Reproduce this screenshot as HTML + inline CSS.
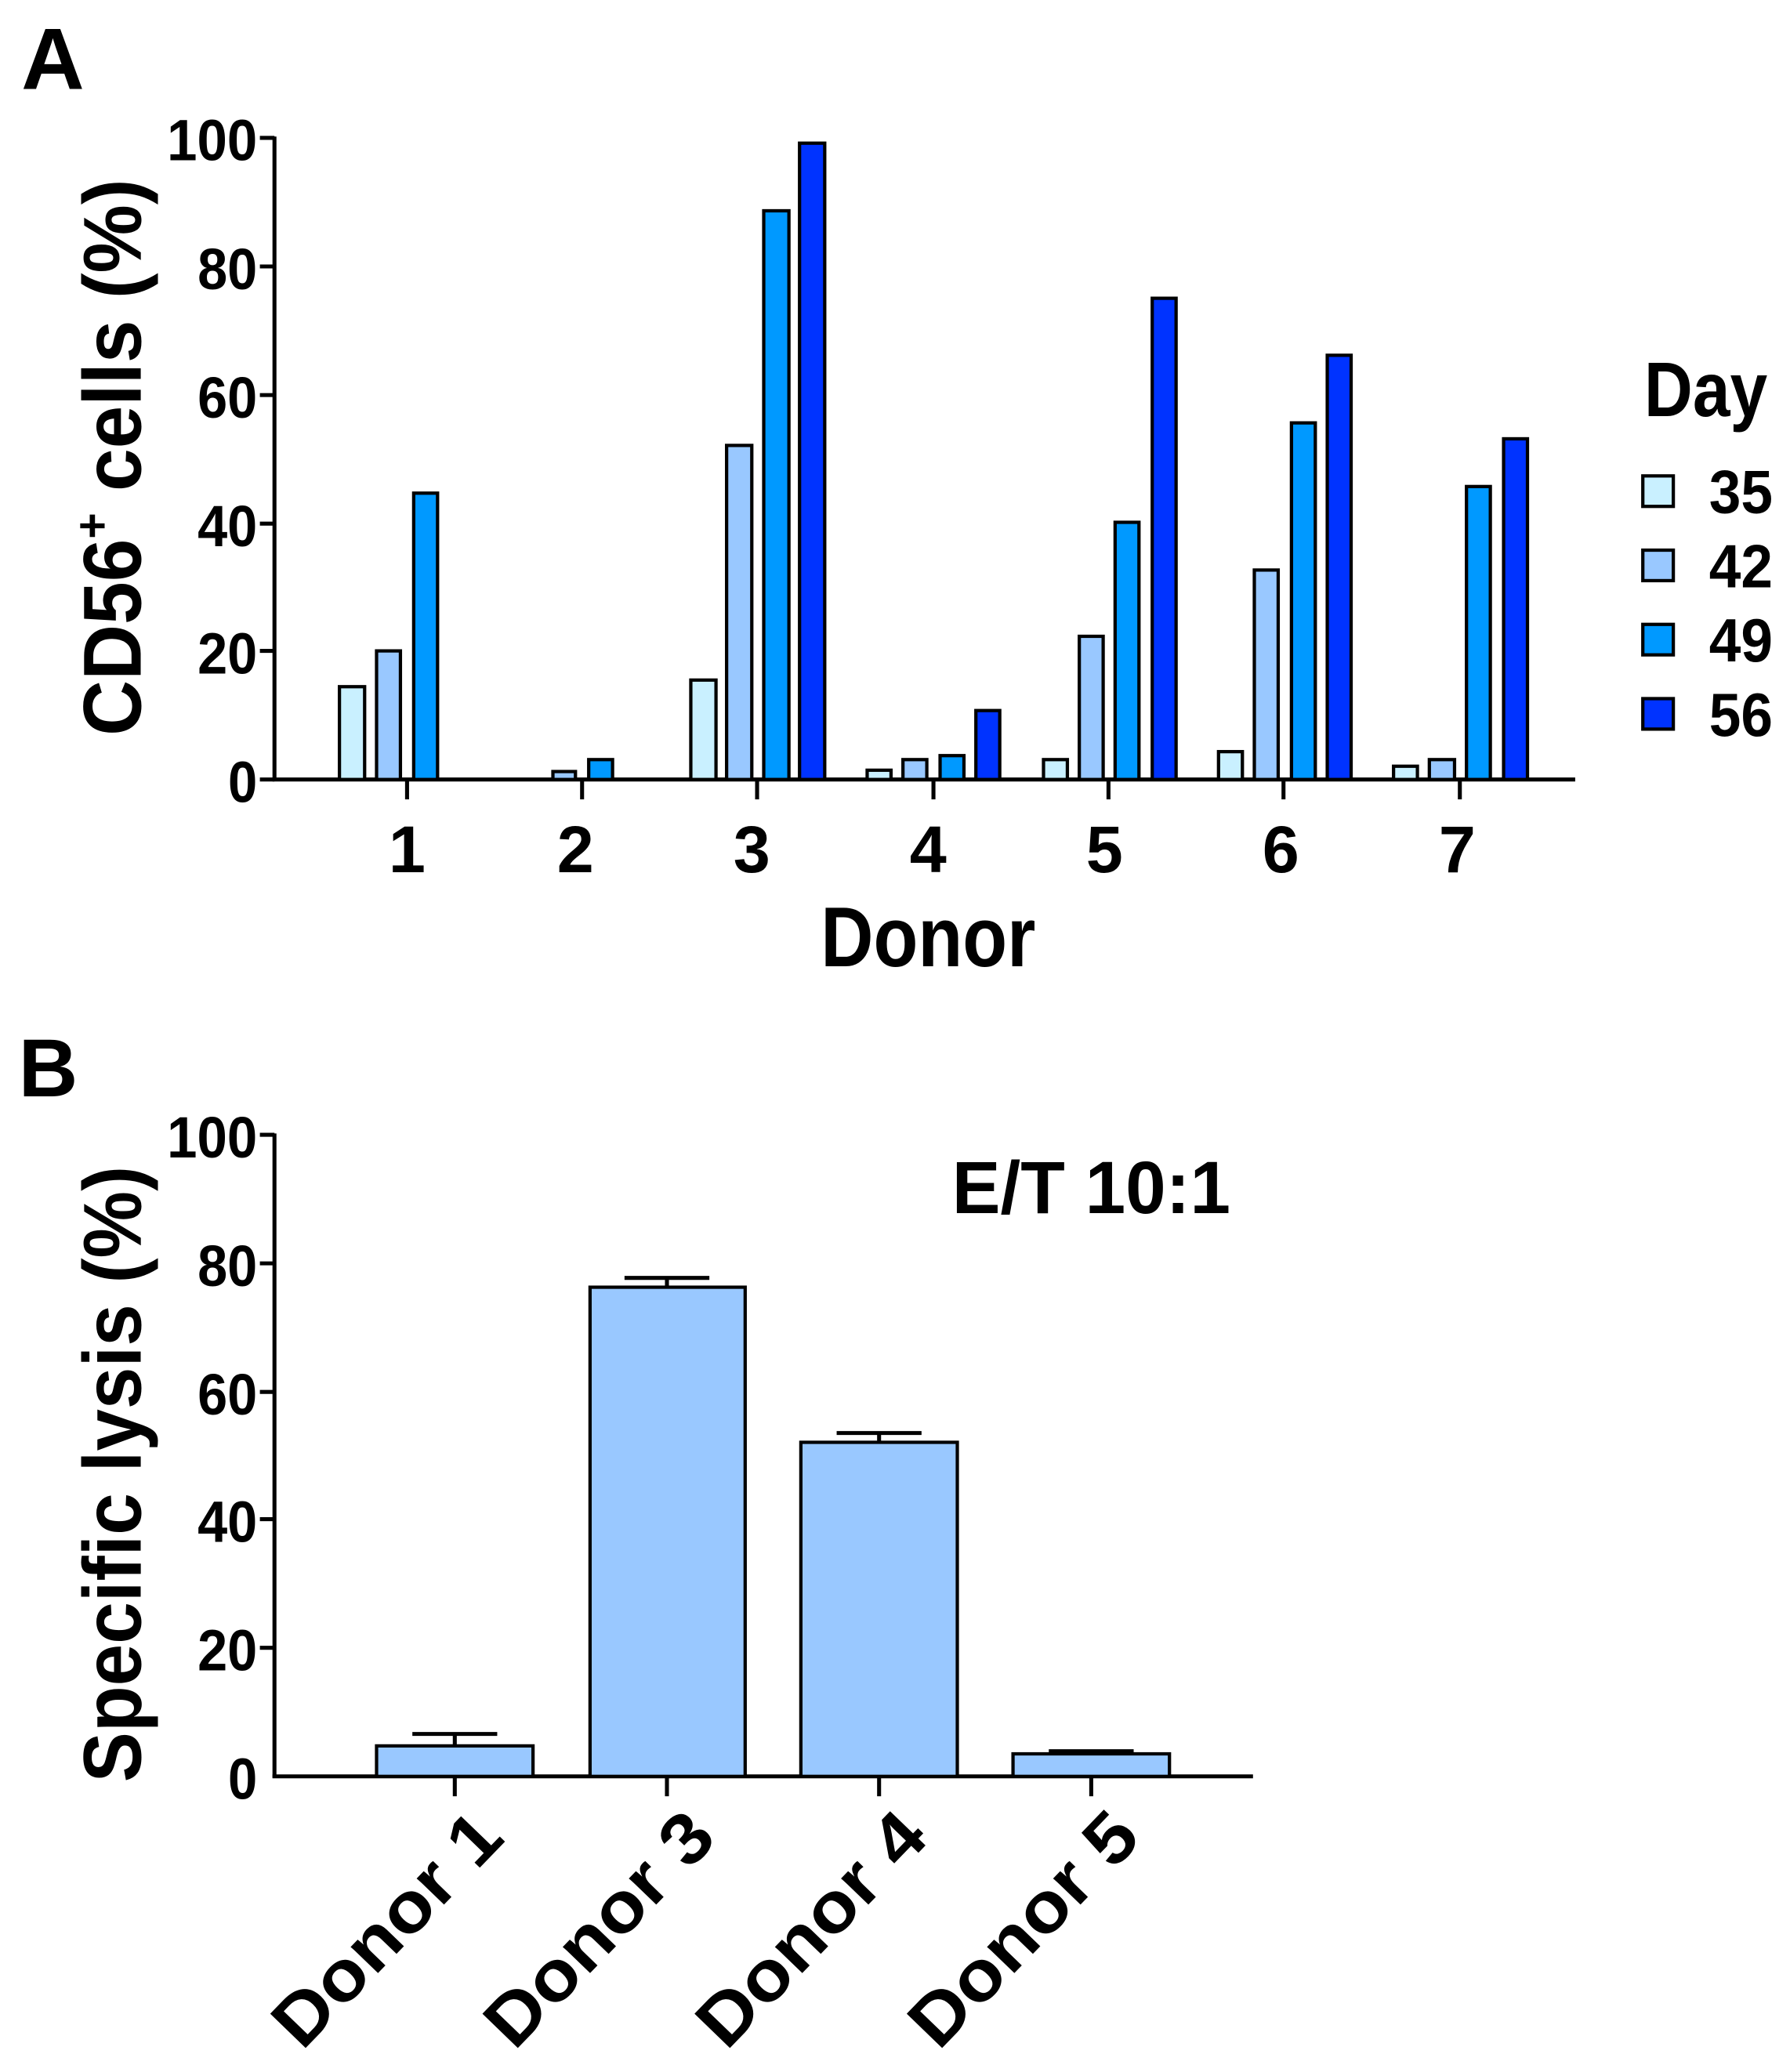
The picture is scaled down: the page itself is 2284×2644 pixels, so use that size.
<!DOCTYPE html>
<html><head><meta charset="utf-8"><style>
html,body{margin:0;padding:0;background:#fff;}
svg{display:block;}
text{font-family:"Liberation Sans",sans-serif;font-weight:bold;fill:#000;}
</style></head><body>
<svg width="2284" height="2644" viewBox="0 0 1350 1563" preserveAspectRatio="none" xmlns="http://www.w3.org/2000/svg">
<rect width="1350" height="1563" fill="#fff"/>
<!-- Panel A -->
<text x="16" y="67" font-size="66">A</text>
<g stroke="#000" stroke-width="3" fill="none">
<line x1="207" y1="103" x2="207" y2="589"/>
<line x1="205.5" y1="588" x2="1188" y2="588"/>
<line x1="196" y1="104" x2="207" y2="104"/>
<line x1="196" y1="201" x2="207" y2="201"/>
<line x1="196" y1="298" x2="207" y2="298"/>
<line x1="196" y1="395" x2="207" y2="395"/>
<line x1="196" y1="491" x2="207" y2="491"/>
<line x1="196" y1="588" x2="207" y2="588"/>
<line x1="307" y1="588" x2="307" y2="603"/>
<line x1="439" y1="588" x2="439" y2="603"/>
<line x1="571" y1="588" x2="571" y2="603"/>
<line x1="704" y1="588" x2="704" y2="603"/>
<line x1="836" y1="588" x2="836" y2="603"/>
<line x1="968" y1="588" x2="968" y2="603"/>
<line x1="1101" y1="588" x2="1101" y2="603"/>
</g>
<g font-size="44" text-anchor="end">
<text x="194" y="121" textLength="68" lengthAdjust="spacingAndGlyphs">100</text>
<text x="194" y="218" textLength="45" lengthAdjust="spacingAndGlyphs">80</text>
<text x="194" y="315" textLength="45" lengthAdjust="spacingAndGlyphs">60</text>
<text x="194" y="412" textLength="45" lengthAdjust="spacingAndGlyphs">40</text>
<text x="194" y="508" textLength="45" lengthAdjust="spacingAndGlyphs">20</text>
<text x="194" y="605" textLength="22" lengthAdjust="spacingAndGlyphs">0</text>
</g>
<g font-size="50" text-anchor="middle">
<text x="307" y="658">1</text><text x="434" y="658">2</text><text x="567" y="658">3</text>
<text x="700" y="658">4</text><text x="833" y="658">5</text><text x="966" y="658">6</text><text x="1099" y="658">7</text>
</g>
<text x="700" y="729" font-size="64" text-anchor="middle" textLength="162" lengthAdjust="spacingAndGlyphs">Donor</text>
<text transform="translate(106,345) rotate(-90)" font-size="62" text-anchor="middle" textLength="420" lengthAdjust="spacingAndGlyphs">CD56<tspan font-size="36" dy="-24">+</tspan><tspan dy="24"> cells  (%)</tspan></text>
<g stroke="#000" stroke-width="2.5">
<!-- D1 -->
<rect x="256" y="518" width="19" height="70" fill="#c9f0ff"/>
<rect x="284" y="491" width="18" height="97" fill="#99c8ff"/>
<rect x="312" y="372" width="18" height="216" fill="#0099ff"/>
<!-- D2 -->
<rect x="417" y="582" width="17" height="6" fill="#99c8ff"/>
<rect x="444" y="573" width="18" height="15" fill="#0099ff"/>
<!-- D3 -->
<rect x="521" y="513" width="19" height="75" fill="#c9f0ff"/>
<rect x="548" y="336" width="19" height="252" fill="#99c8ff"/>
<rect x="576" y="159" width="19" height="429" fill="#0099ff"/>
<rect x="603" y="108" width="19" height="480" fill="#0033ff"/>
<!-- D4 -->
<rect x="654" y="581" width="18" height="7" fill="#c9f0ff"/>
<rect x="681" y="573" width="18" height="15" fill="#99c8ff"/>
<rect x="709" y="570" width="18" height="18" fill="#0099ff"/>
<rect x="736" y="536" width="18" height="52" fill="#0033ff"/>
<!-- D5 -->
<rect x="787" y="573" width="18" height="15" fill="#c9f0ff"/>
<rect x="814" y="480" width="18" height="108" fill="#99c8ff"/>
<rect x="841" y="394" width="18" height="194" fill="#0099ff"/>
<rect x="869" y="225" width="18" height="363" fill="#0033ff"/>
<!-- D6 -->
<rect x="919" y="567" width="18" height="21" fill="#c9f0ff"/>
<rect x="946" y="430" width="18" height="158" fill="#99c8ff"/>
<rect x="974" y="319" width="18" height="269" fill="#0099ff"/>
<rect x="1001" y="268" width="18" height="320" fill="#0033ff"/>
<!-- D7 -->
<rect x="1051" y="578" width="18" height="10" fill="#c9f0ff"/>
<rect x="1078" y="573" width="19" height="15" fill="#99c8ff"/>
<rect x="1106" y="367" width="18" height="221" fill="#0099ff"/>
<rect x="1134" y="331" width="18" height="257" fill="#0033ff"/>
<!-- legend -->
<rect x="1239" y="359" width="23" height="23" fill="#c9f0ff"/>
<rect x="1239" y="415" width="23" height="23" fill="#99c8ff"/>
<rect x="1239" y="471" width="23" height="23" fill="#0099ff"/>
<rect x="1239" y="527" width="23" height="23" fill="#0033ff"/>
</g>
<text x="1240" y="314" font-size="58" textLength="93" lengthAdjust="spacingAndGlyphs">Day</text>
<g font-size="46">
<text x="1289" y="387" textLength="48" lengthAdjust="spacingAndGlyphs">35</text>
<text x="1289" y="443" textLength="48" lengthAdjust="spacingAndGlyphs">42</text>
<text x="1289" y="499" textLength="48" lengthAdjust="spacingAndGlyphs">49</text>
<text x="1289" y="555" textLength="48" lengthAdjust="spacingAndGlyphs">56</text>
</g>
<!-- Panel B -->
<text x="14" y="827" font-size="62">B</text>
<g stroke="#000" stroke-width="3" fill="none">
<line x1="207" y1="855" x2="207" y2="1341"/>
<line x1="205.5" y1="1340" x2="945" y2="1340"/>
<line x1="196" y1="856" x2="207" y2="856"/>
<line x1="196" y1="953" x2="207" y2="953"/>
<line x1="196" y1="1050" x2="207" y2="1050"/>
<line x1="196" y1="1146" x2="207" y2="1146"/>
<line x1="196" y1="1243" x2="207" y2="1243"/>
<line x1="343" y1="1340" x2="343" y2="1355"/>
<line x1="503" y1="1340" x2="503" y2="1355"/>
<line x1="663" y1="1340" x2="663" y2="1355"/>
<line x1="823" y1="1340" x2="823" y2="1355"/>
<!-- error bars -->
<line x1="343" y1="1317" x2="343" y2="1308"/><line x1="311" y1="1308" x2="375" y2="1308"/>
<line x1="503" y1="971" x2="503" y2="964"/><line x1="471" y1="964" x2="535" y2="964"/>
<line x1="663" y1="1088" x2="663" y2="1081"/><line x1="631" y1="1081" x2="695" y2="1081"/>
<line x1="823" y1="1323" x2="823" y2="1321"/><line x1="791" y1="1321" x2="855" y2="1321"/>
</g>
<g font-size="44" text-anchor="end">
<text x="194" y="873" textLength="68" lengthAdjust="spacingAndGlyphs">100</text>
<text x="194" y="970" textLength="45" lengthAdjust="spacingAndGlyphs">80</text>
<text x="194" y="1067" textLength="45" lengthAdjust="spacingAndGlyphs">60</text>
<text x="194" y="1163" textLength="45" lengthAdjust="spacingAndGlyphs">40</text>
<text x="194" y="1260" textLength="45" lengthAdjust="spacingAndGlyphs">20</text>
<text x="194" y="1357" textLength="22" lengthAdjust="spacingAndGlyphs">0</text>
</g>
<g stroke="#000" stroke-width="2.5" fill="#99c8ff">
<rect x="284" y="1317" width="118" height="23"/>
<rect x="445" y="971" width="117" height="369"/>
<rect x="604" y="1088" width="118" height="252"/>
<rect x="764" y="1323" width="118" height="17"/>
</g>
<text x="718" y="915" font-size="56" textLength="210" lengthAdjust="spacingAndGlyphs">E/T 10:1</text>
<text transform="translate(106,1112) rotate(-90)" font-size="62" text-anchor="middle" textLength="465" lengthAdjust="spacingAndGlyphs">Specific lysis  (%)</text>
<g font-size="54" text-anchor="end">
<text transform="translate(382,1388) rotate(-46)" textLength="222" lengthAdjust="spacingAndGlyphs">Donor 1</text>
<text transform="translate(542,1388) rotate(-46)" textLength="222" lengthAdjust="spacingAndGlyphs">Donor 3</text>
<text transform="translate(702,1388) rotate(-46)" textLength="222" lengthAdjust="spacingAndGlyphs">Donor 4</text>
<text transform="translate(862,1388) rotate(-46)" textLength="222" lengthAdjust="spacingAndGlyphs">Donor 5</text>
</g>
</svg>
</body></html>
